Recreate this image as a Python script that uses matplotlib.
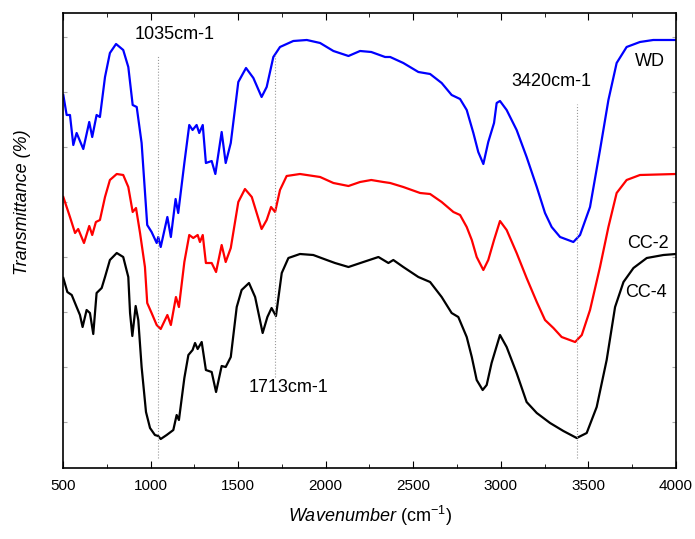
import numpy as np
import matplotlib.pyplot as plt

# FTIR spectra, y in arbitrary transmittance units (curves are offset)
wn_wd = [502, 521, 540, 559, 578, 616, 650, 667, 692, 711, 740, 768, 803, 844, 873, 898, 921, 949,
         981, 1006, 1035, 1044, 1058, 1096, 1116, 1143, 1158, 1193, 1221, 1240, 1263, 1278, 1298,
         1316, 1349, 1370, 1406, 1429, 1458, 1501, 1545, 1587, 1634, 1663, 1701, 1739, 1815, 1892,
         1968, 2044, 2130, 2196, 2260, 2339, 2368, 2443, 2529, 2596, 2662, 2719, 2767, 2805, 2843,
         2871, 2900, 2928, 2961, 2976, 2995, 3033, 3090, 3147, 3205, 3252, 3290, 3338, 3414, 3452,
         3509, 3566, 3614, 3661, 3718, 3794, 3870, 4000]
t_wd = [373, 353, 353, 323, 335, 319, 346, 331, 353, 351, 391, 415, 424, 418, 401, 363, 361, 325,
        243, 236, 225, 231, 221, 251, 231, 269, 255, 305, 343, 338, 343, 335, 343,
        305, 307, 294, 336, 305, 325, 386, 400, 390, 371, 381, 411, 421, 427, 428,
        425, 417, 412, 417, 416, 411, 411, 405, 396, 394, 385, 373, 369, 358, 335,
        316, 304, 326, 345, 365, 367, 358, 338, 311, 281, 255, 241, 231, 226, 233,
        261, 318, 368, 405, 421, 426, 428, 428]

wn_cc2 = [502, 540, 569, 587, 620, 650, 667, 688, 711, 740, 768, 807, 844, 873, 898, 917, 940, 968,
          981, 1006, 1035, 1058, 1096, 1116, 1145, 1162, 1193, 1221, 1244, 1269, 1282, 1298, 1316,
          1349, 1374, 1406, 1429, 1458, 1501, 1539, 1578, 1634, 1663, 1688, 1711, 1739, 1777, 1853,
          1968, 2044, 2130, 2196, 2260, 2329, 2368, 2443, 2539, 2596, 2662, 2729, 2767, 2805, 2834,
          2862, 2900, 2928, 2961, 2995, 3033, 3090, 3147, 3205, 3252, 3300, 3347, 3424, 3462, 3509,
          3566, 3614, 3661, 3718, 3794, 4000]
t_cc2 = [271, 251, 235, 239, 225, 242, 233, 246, 248, 271, 288, 294, 293, 281, 256, 260, 235, 201,
         165, 155, 143, 139, 153, 143, 171, 161, 206, 233, 230, 233, 226, 233, 205,
         205, 196, 223, 206, 220, 266, 279, 271, 239, 248, 261, 256, 278, 292, 294,
         291, 285, 282, 286, 288, 286, 285, 281, 275, 274, 266, 256, 253, 241, 228,
         211, 198, 208, 228, 247, 238, 215, 190, 166, 148, 140, 131, 126, 133, 158,
         201, 241, 275, 288, 293, 294]

wn_cc4 = [502, 525, 550, 578, 597, 612, 635, 654, 673, 692, 721, 740, 768, 807, 844, 873, 883, 896,
          915, 930, 949, 974, 997, 1025, 1044, 1058, 1092, 1130, 1149, 1162, 1193, 1216, 1240, 1254,
          1269, 1292, 1316, 1349, 1374, 1406, 1429, 1458, 1492, 1520, 1562, 1597, 1640, 1667, 1691,
          1716, 1749, 1787, 1853, 1929, 2006, 2053, 2130, 2215, 2301, 2358, 2386, 2443, 2529, 2596,
          2662, 2719, 2757, 2805, 2834, 2862, 2896, 2919, 2947, 2995, 3033, 3090, 3147, 3205, 3281,
          3357, 3433, 3490, 3547, 3604, 3652, 3700, 3757, 3833, 3928, 4000]
t_cc4 = [190, 176, 173, 161, 153, 141, 158, 155, 134, 175, 180, 191, 208, 215, 211, 191, 155, 132,
         162, 148, 101, 56, 40, 33, 32, 29, 33, 38, 53, 48, 90, 113, 118, 125,
         119, 126, 98, 96, 76, 102, 101, 111, 161, 178, 185, 171, 135, 151, 160,
         152, 195, 210, 214, 213, 208, 205, 201, 206, 211, 205, 208, 201, 191, 186,
         171, 155, 151, 131, 111, 88, 78, 83, 105, 133, 121, 95, 66, 55, 45,
         37, 30, 35, 61, 108, 161, 186, 200, 210, 213, 214]

labels = ['WD', 'CC-2', 'CC-4']
colors = ['#0000ff', '#ff0000', '#000000']
peaks = [1041, 1708, 3435]
peak_labels = ['1035cm-1', '1713cm-1', '3420cm-1']

plt.rcParams['font.family'] = ['Liberation Sans', 'DejaVu Sans']
plt.rcParams['mathtext.fontset'] = 'custom'
plt.rcParams['mathtext.rm'] = 'Liberation Sans'
plt.rcParams['mathtext.it'] = 'Liberation Sans:italic'

fig = plt.figure(figsize=(6.95, 5.39), dpi=100)
ax = fig.add_axes([0.0906, 0.1317, 0.8821, 0.8442])

for wn, t, c in zip([wn_wd, wn_cc2, wn_cc4], [t_wd, t_cc2, t_cc4], colors):
    ax.plot(wn, t, color=c, lw=1.6)

# dotted marker lines for the peaks
ax.plot([peaks[0], peaks[0]], [10, 413], color='#999999', lw=0.8, ls=':')
ax.plot([peaks[1], peaks[1]], [91, 415], color='#999999', lw=0.8, ls=':')
ax.plot([peaks[2], peaks[2]], [10, 364], color='#999999', lw=0.8, ls=':')

ax.text(1140, 433, peak_labels[0], fontsize=13, ha='center', va='center')
ax.text(1790, 81, peak_labels[1], fontsize=13, ha='center', va='center')
ax.text(3290, 386, peak_labels[2], fontsize=13, ha='center', va='center')

ax.text(3850, 406, labels[0], fontsize=13, ha='center', va='center')
ax.text(3840, 225, labels[1], fontsize=13, ha='center', va='center')
ax.text(3830, 176, labels[2], fontsize=13, ha='center', va='center')

ax.set_xlim(500, 4000)
ax.set_ylim(0, 455)
ax.set_xticks(np.arange(500, 4001, 500))
ax.set_xticks(np.arange(750, 4000, 500), minor=True)
ax.set_yticks(np.arange(46, 455, 55))
ax.set_yticklabels([])
ax.tick_params(axis='both', which='both', direction='in', top=True, right=True)
ax.tick_params(axis='x', which='major', length=5, labelsize=11, pad=8)
ax.tick_params(axis='x', which='minor', length=3)
ax.tick_params(axis='y', length=3, color='#aaaaaa')
for s in ax.spines.values():
    s.set_linewidth(1.2)

ax.set_xlabel(r'$\it{Wavenumber}$ (cm$^{-1}$)', fontsize=13, labelpad=8)
ax.set_ylabel('Transmittance (%)', fontsize=13, style='italic')
ax.yaxis.set_label_coords(-0.052, 0.585)

fig.savefig('out.png', dpi=100)
